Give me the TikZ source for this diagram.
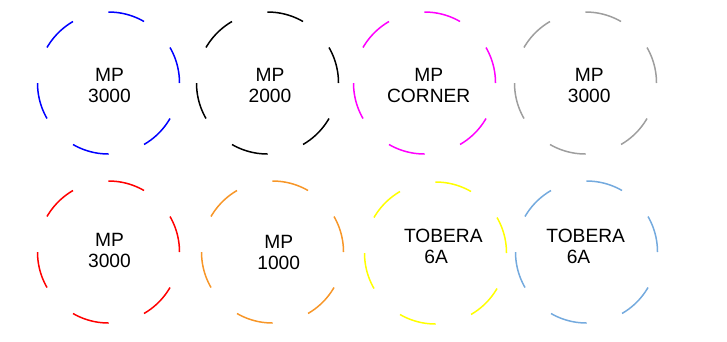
\documentclass[tikz,border=0pt]{standalone}
\usepackage{fontspec}
\setmainfont{Liberation Sans}
\usepackage{tikz}
\definecolor{ringmagenta}{RGB}{255,0,255}
\definecolor{ringyellow}{RGB}{255,255,0}
\definecolor{ringorange}{RGB}{247,150,40}
\definecolor{ringgray}{RGB}{158,158,158}
\definecolor{ringsky}{RGB}{116,170,222}

\begin{document}
\begin{tikzpicture}[x=1pt,y=-1pt,
    ring/.style={circle,minimum size=142pt,inner sep=0pt,line width=1.5pt,
      dash pattern=on 37.18pt off 37.18pt},
    ringlbl/.style={align=center,inner sep=0pt,font=\fontsize{19.2}{21}\selectfont}]
  \useasboundingbox (0,0) rectangle (727,341);
  % top row
  \foreach \cx/\cy/\col/\tx/\ty/\txt/\nm in {
      108.5/83/blue/109.5/85.3/{MP\\3000}/mpa,
      267.5/83/black/270/85.3/{MP\\2000}/mpb,
      424.5/83/ringmagenta/428.7/85.3/{MP\\CORNER}/mpc,
      585.5/83/ringgray/589.2/85.3/{MP\\3000}/mpd} {
    \node[ring,draw=\col] (\nm) at (\cx,\cy) {};
    \node[ringlbl] (\nm-t) at (\tx,\ty) {\txt};
  }
  % bottom row
  \foreach \cx/\cy/\col/\tx/\ty/\txt/\nm in {
      108.5/252/red/109.5/250.8/{MP\\3000}/mpe,
      272.5/252/ringorange/278.7/252.8/{MP\\1000}/mpf,
      435.5/253/ringyellow/443.3/246.3/{TOBERA\\6A\hspace*{0.75em}}/toba,
      586.5/252/ringsky/585.7/246.3/{TOBERA\\6A\hspace*{0.75em}}/tobb} {
    \node[ring,draw=\col] (\nm) at (\cx,\cy) {};
    \node[ringlbl] (\nm-t) at (\tx,\ty) {\txt};
  }
\end{tikzpicture}
\end{document}
